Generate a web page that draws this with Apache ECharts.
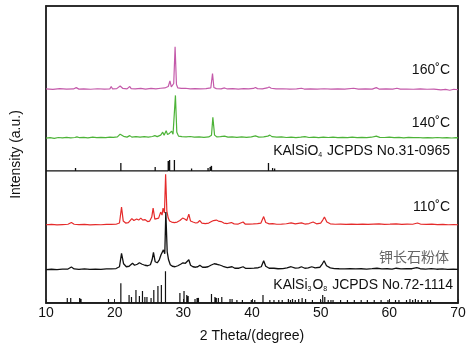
<!DOCTYPE html>
<html>
<head>
<meta charset="utf-8">
<script src="https://cdn.jsdelivr.net/npm/echarts/dist/echarts.min.js"></script>
<style>
  html, body { margin: 0; padding: 0; background: #fff; overflow: hidden; }
  #xrd { width: 472px; height: 348px; }
</style>
</head>
<body>
<div id="xrd"></div>
<script>
// 2theta / intensity (intensity in arbitrary units above each baseline)
var xTicks = [10, 20, 30, 40, 50, 60, 70];

var s160 = [[10,0.5],[11,0],[12,0.8],[13,0.3],[14,0.5],[14.4,1.8],[14.8,0.3],[15.5,0.6],[16.5,0.2],[17.5,0.7],[18.5,0.4],[19.3,0.6],[19.5,3],[19.7,0.5],[20.3,0.8],[20.8,3.5],[21.0,4],[21.2,1],[21.8,0.6],[22.2,3],[22.4,0.8],[23,0.5],[23.8,1],[24.5,0.4],[25.3,1],[26,0.6],[26.7,1.2],[27.3,1.5],[27.8,3],[28.05,8.5],[28.25,2.5],[28.6,6],[28.8,43],[29.0,5],[29.2,1.5],[29.7,1],[30.3,1.2],[31,0.6],[31.7,0.8],[32.5,0.5],[33.3,0.8],[34.0,1.5],[34.25,16],[34.45,2],[34.8,0.8],[35.5,0.5],[36.0,1.5],[36.4,0.5],[37.2,0.8],[38,0.4],[38.8,0.9],[39.5,0.5],[40.2,1],[40.5,2],[40.8,0.8],[41.5,0.6],[42.2,1.5],[42.5,2.5],[42.8,1.2],[43.5,0.5],[44.5,0.7],[45.5,0.3],[46.5,0.6],[47.2,1.2],[47.6,0.4],[48.5,0.6],[49.5,0.3],[50.5,0.7],[51.5,0.4],[52.5,0.5],[53.5,0.3],[54.8,1.2],[55.5,0.4],[56.5,0.5],[57.5,0.3],[58.1,1.8],[58.5,0.4],[59.5,0.5],[60.5,0.3],[61.1,1.2],[61.6,0.3],[62.5,0.4],[63.5,0.2],[64.5,0.5],[65.5,0.2],[66.5,0.3],[67.5,-0.5],[68.2,0],[68.8,-0.8],[69.4,0.2],[70,-0.3]];

var s140 = [[10,0],[10.6,0.5],[11.2,-0.2],[11.8,0.6],[12.4,0.2],[13,0.7],[13.6,0.3],[14.2,0.6],[14.5,1.3],[14.9,0.4],[15.5,0.8],[16.1,0.3],[16.8,0.9],[17.4,0.4],[18,0.7],[18.7,0.5],[19.3,1],[19.5,2.5],[19.8,0.8],[20.4,1.2],[20.8,4],[21.0,4.8],[21.3,1.8],[21.8,1],[22.2,2.5],[22.5,1],[23.1,1.5],[23.7,0.9],[24.3,1.4],[24.9,1],[25.5,1.6],[25.85,2.5],[26.2,1.5],[26.7,3],[27.0,6],[27.2,3],[27.5,7.5],[27.7,3.5],[28.0,5],[28.3,7],[28.5,4],[28.85,43],[29.05,6],[29.3,2],[29.8,1.5],[30.4,1.2],[31.0,1.6],[31.6,1],[32.3,1.3],[33.0,0.8],[33.7,1.2],[34.1,3],[34.3,21],[34.55,3],[34.9,1.2],[35.4,1.5],[36.0,2],[36.5,1],[37.1,1.3],[37.8,0.8],[38.5,1.2],[39.2,0.7],[39.9,1.2],[40.5,2.2],[41,1],[41.7,1.2],[42.3,2],[42.6,3],[42.9,1.5],[43.6,1],[44.3,1.2],[45,0.6],[45.7,1],[46.4,0.5],[47.1,0.9],[47.7,1.5],[48.3,0.6],[49,1],[49.7,0.5],[50.4,1],[51.1,0.6],[51.8,1],[52.5,0.4],[53.2,0.8],[53.9,0.4],[54.6,1],[55.3,0.5],[56,0.8],[56.7,0.5],[57.4,0.9],[58.1,2],[58.6,0.7],[59.3,0.6],[60,1],[60.7,0.4],[61.4,0.7],[62.1,0.3],[62.8,0.8],[63.5,0.4],[64.2,0.6],[64.9,0.2],[65.6,0.5],[66.3,0.3],[67,0.6],[67.7,0.2],[68.4,0.5],[69.1,0.1],[69.7,0.4],[70,0.2]];

var pdf31 = [[14.3,3],[19.4,2],[19.8,2],[20.9,8],[25.9,4],[27.8,10],[28.0,11],[28.7,11],[31.2,2.5],[33.1,2],[33.6,3],[33.9,4],[34.1,5],[37.1,1.5],[40.4,2],[40.9,2],[42.4,8],[43.0,3],[43.3,2.5],[43.7,2],[44.3,1.5],[45.0,1.5],[46.3,1.5],[47.4,1.5],[48.1,2],[49.0,2],[49.4,1.5],[51.6,1.5],[53.3,1.5],[55.4,2],[56.0,1],[56.6,1.5],[57.6,1.5],[58.8,2],[59.5,1.5],[61.5,2]];

var s110 = [[10,0.3],[10.8,0.6],[11.6,0.2],[12.4,0.5],[13.2,0.8],[13.7,2.5],[14.1,0.8],[14.8,0.4],[15.6,0.6],[16.4,0.2],[17.2,0.5],[18,0.3],[18.8,0.6],[19.5,0.7],[20.2,0.8],[20.7,2],[21.0,18],[21.25,4],[21.6,2],[22.0,2.5],[22.5,6.5],[22.8,4.5],[23.2,6],[23.5,5],[23.8,7],[24.1,5],[24.4,5.5],[24.8,3.5],[25.1,4],[25.4,8],[25.6,17],[25.85,6],[26.1,5],[26.4,7],[26.7,13],[26.9,10],[27.05,17],[27.25,12],[27.42,51],[27.6,14],[27.8,7],[28.0,4],[28.3,3],[28.7,2.5],[29.1,3],[29.5,4.5],[29.9,7],[30.2,6],[30.5,4.5],[30.8,11],[31.05,4],[31.4,3],[31.8,2],[32.1,2.5],[32.4,4.5],[32.7,2],[33.2,1.5],[33.7,2],[34.1,3.5],[34.4,4.5],[34.8,5],[35.1,4],[35.5,3.5],[35.9,2],[36.4,1.5],[37.0,2.5],[37.4,1.2],[38.0,1],[38.7,3],[39.0,1],[39.6,1],[40.2,1.2],[40.8,1.5],[41.3,2],[41.7,8.5],[42.0,2.5],[42.5,1.2],[43.0,1.5],[43.6,0.8],[44.3,1],[45.0,1.3],[45.7,2.2],[46.3,1.2],[47.2,2.2],[47.7,1],[48.3,1.5],[48.9,3],[49.4,1.2],[50.0,2],[50.3,5],[50.55,8],[50.9,3],[51.4,1.2],[52.1,0.8],[52.9,1],[53.7,0.6],[54.5,1],[55.3,0.7],[56.1,0.9],[56.9,0.6],[57.7,1],[58.5,1.2],[59.3,0.7],[60.1,0.9],[61.0,1.2],[61.8,0.6],[62.6,1],[63.4,0.8],[64.1,2],[64.6,0.8],[65.4,0.6],[66.2,0.9],[67,0.4],[67.8,0.7],[68.6,0.3],[69.4,0.5],[70,0.3]];

var feldspar = [[10,0.2],[10.8,0.5],[11.6,0.1],[12.4,0.6],[13.2,0.7],[13.7,2.7],[14.1,0.8],[14.8,0.4],[15.6,0.8],[16.4,0.3],[17.2,0.6],[18,0.4],[18.8,0.8],[19.5,0.9],[20.2,1.2],[20.7,3],[21.0,16.5],[21.3,6],[21.7,3],[22.1,3.5],[22.6,6.5],[22.9,4.5],[23.3,5.5],[23.6,7],[24.0,5.5],[24.4,4.5],[24.8,4],[25.2,5],[25.45,10],[25.65,17.5],[25.9,8],[26.2,7],[26.5,10],[26.75,15],[26.95,13],[27.1,20],[27.3,16],[27.45,58],[27.65,18],[27.85,10],[28.1,5],[28.4,3.5],[28.8,3],[29.2,4],[29.6,5.5],[29.95,7],[30.3,6.5],[30.55,6],[30.8,10],[31.05,4.5],[31.4,3],[31.8,2.5],[32.1,3],[32.4,4.5],[32.8,2.5],[33.2,2.5],[33.6,3],[34.0,4.5],[34.5,6],[34.9,5.5],[35.2,5],[35.6,4],[35.9,3],[36.4,2],[37.1,3],[37.5,1.5],[38.1,1.5],[38.7,3],[39.1,1.3],[39.7,1.4],[40.3,1.6],[40.9,2],[41.35,3],[41.7,9],[42.0,3.5],[42.5,1.5],[43.2,1.5],[43.8,1],[44.5,1.2],[45.1,1.8],[45.7,3],[46.3,1.6],[46.8,1.8],[47.2,3],[47.7,1.5],[48.2,1.8],[48.7,3],[49.2,1.8],[49.9,2.5],[50.25,6],[50.5,9],[50.85,4],[51.4,1.8],[52.0,1.2],[52.7,1],[53.5,0.8],[54.3,1.2],[55.1,0.8],[55.9,1],[56.7,0.7],[57.5,1.1],[58.2,1.5],[58.9,0.8],[59.7,1],[60.4,0.7],[61.0,1.5],[61.7,0.8],[62.5,1.2],[63.3,1],[64.0,2],[64.5,1],[65.3,0.7],[66.1,1.1],[66.9,0.5],[67.7,0.8],[68.5,0.4],[69.3,0.6],[70,0.4]];

var pdf72 = [[13.1,5],[13.6,5],[14.9,5],[15.1,4],[19.1,4],[20.9,20],[22.1,8],[22.45,6],[23.1,13],[23.6,7],[24.05,12],[24.4,6],[24.7,6],[25.3,5],[25.7,13],[26.3,17],[26.8,18],[27.4,32],[29.5,10],[30.1,12],[30.5,8],[30.7,7],[31.7,4],[32.0,5],[32.2,5],[34.1,9],[34.6,6],[34.8,5],[35.1,5],[35.6,6],[36.8,4],[37.1,4],[37.8,3],[38.6,3],[39.9,3],[40.4,3],[41.6,8],[42.6,3],[43.2,3],[43.9,3],[44.4,3],[45.3,4],[45.6,3],[45.9,4],[46.3,3],[46.8,4],[47.3,5],[47.8,4],[48.3,2],[48.8,3],[49.5,2],[50.0,3],[50.3,8],[50.6,6],[51.1,3],[51.5,3],[51.8,3],[52.4,2],[52.9,3],[53.4,2],[53.9,3],[54.4,2],[54.9,3],[55.4,2],[55.9,3],[56.3,2],[56.8,3],[57.3,2],[57.8,3],[58.3,2],[58.8,3],[59.3,2],[59.8,3],[60.4,2],[60.9,3],[61.4,3],[61.9,2],[62.5,3],[63.0,4],[63.4,3],[63.8,4],[64.2,3],[64.7,3],[65.2,2],[65.6,3],[66.0,3]];

// baselines of the stacked patterns (y axis units)
var base = { s160: 215, s140: 166, pdf31: 133, s110: 78.5, feldspar: 33.5, pdf72: 0 };

function shift(arr, b) {
  return arr.map(function (p) { return [p[0], p[1] + b]; });
}
function sticks(arr, b) {
  var out = [[10, b]];
  arr.forEach(function (p) {
    out.push([p[0], b], [p[0], b + p[1]], [p[0], b]);
  });
  out.push([70, b]);
  return out;
}
function curve(name, data, color, w) {
  return {
    name: name, type: 'line', data: data, showSymbol: false, symbol: 'none',
    lineStyle: { color: color, width: w }, silent: true, z: 3
  };
}

var FONT = 'Liberation Sans, Arial, sans-serif';
var frame = { show: true, onZero: false, lineStyle: { color: '#222', width: 1.5 } };
var chart = echarts.init(document.getElementById('xrd'), null, { renderer: 'canvas' });
chart.setOption({
  animation: false,
  backgroundColor: '#fff',
  grid: { left: 46, right: 14, top: 6, bottom: 43, show: true, borderColor: '#222', borderWidth: 1.5 },
  xAxis: [{
    type: 'value', min: 10, max: 70, interval: 10,
    name: '2 Theta/(degree)', nameLocation: 'middle', nameGap: 26,
    nameTextStyle: { fontFamily: FONT, fontSize: 14, color: '#111' },
    axisLine: frame,
    axisTick: { show: true, inside: true, length: 4, lineStyle: { color: '#222' } },
    axisLabel: { fontFamily: FONT, fontSize: 14, color: '#111', margin: 3,
      formatter: function (v) { return xTicks.indexOf(v) >= 0 ? String(v) : ''; } },
    splitLine: { show: false }
  }, {
    type: 'value', position: 'top', min: 10, max: 70,
    axisLine: frame, axisTick: { show: false }, axisLabel: { show: false }, splitLine: { show: false }
  }],
  yAxis: [{
    type: 'value', min: 0, max: 299,
    name: 'Intensity (a.u.)', nameLocation: 'middle', nameGap: 23,
    nameTextStyle: { fontFamily: FONT, fontSize: 14, color: '#111' },
    axisLine: frame,
    axisTick: { show: false }, axisLabel: { show: false }, splitLine: { show: false }
  }, {
    type: 'value', position: 'right', min: 0, max: 299,
    axisLine: frame, axisTick: { show: false }, axisLabel: { show: false }, splitLine: { show: false }
  }],
  series: [
    curve('160', shift(s160, base.s160), '#C45AAA', 1.2),
    curve('140', shift(s140, base.s140), '#4DB338', 1.2),
    curve('31-0965', sticks(pdf31, base.pdf31), '#111', 1.3),
    curve('110', shift(s110, base.s110), '#E52B2B', 1.2),
    curve('feldspar', shift(feldspar, base.feldspar), '#111', 1.3),
    curve('72-1114', sticks(pdf72, base.pdf72), '#111', 1.2)
  ],
  graphic: [
    { type: 'text', right: 22, top: 63, style: { text: '160˚C', font: '14px ' + FONT, fill: '#111' } },
    { type: 'text', right: 22, top: 116, style: { text: '140˚C', font: '14px ' + FONT, fill: '#111' } },
    { type: 'text', right: 22, top: 144, style: {
      text: 'KAlSiO{s|4} JCPDS No.31-0965', font: '14px ' + FONT, fill: '#111',
      rich: { s: { fontSize: 7, fontFamily: FONT, fill: '#111', verticalAlign: 'bottom', padding: [8, 1, 0, 0] } } } },
    { type: 'text', right: 22, top: 200, style: { text: '110˚C', font: '14px ' + FONT, fill: '#111' } },
    { type: 'text', right: 23, top: 250, style: { text: '钾长石粉体', font: '14px Noto Sans CJK SC', fill: '#666' } },
    { type: 'text', right: 19, top: 278, style: {
      text: 'KAlSi{s|3}O{s|8} JCPDS No.72-1114', font: '14px ' + FONT, fill: '#111',
      rich: { s: { fontSize: 7, fontFamily: FONT, fill: '#111', verticalAlign: 'bottom', padding: [8, 1, 0, 0] } } } }
  ]
});
</script>
</body>
</html>
